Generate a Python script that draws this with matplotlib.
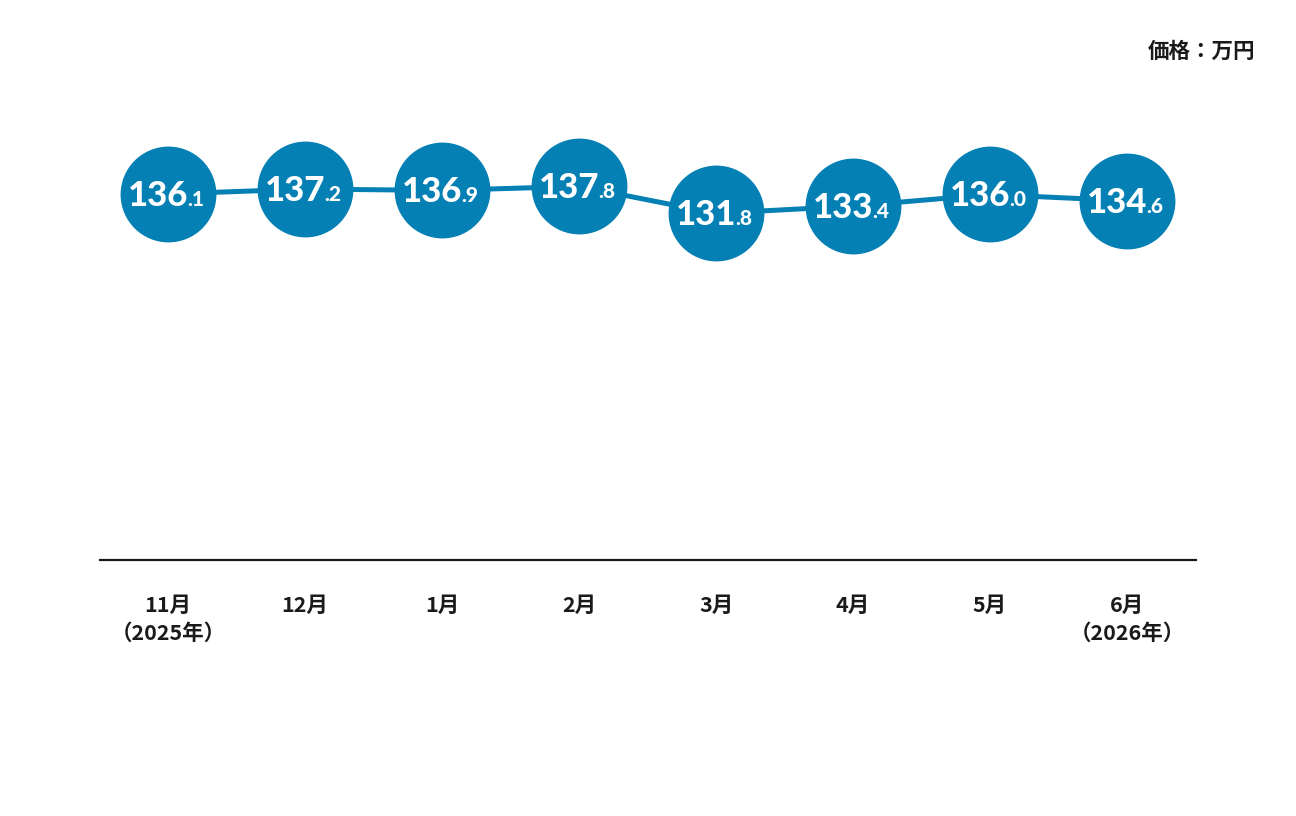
import matplotlib
matplotlib.use("Agg")
import matplotlib.pyplot as plt

months = ["11月\n（2025年）", "12月", "1月", "2月", "3月", "4月", "5月", "6月\n（2026年）"]
prices = [136.1, 137.2, 136.9, 137.8, 131.8, 133.4, 136.0, 134.6]
unit_label = "価格：万円"

BLUE = "#0480b4"
CJK = ["Noto Sans CJK JP", "DejaVu Sans"]

fig = plt.figure(figsize=(12.96, 8.16), dpi=100)
# axes spans x 99.5..1195.5 px, y 100..560 px (from top)
ax = fig.add_axes([99.5 / 1296, (816 - 560) / 816, 1096 / 1296, 460 / 816])
x = list(range(len(prices)))
ax.plot(x, prices, color=BLUE, lw=3.6, zorder=2, solid_capstyle="butt")
ax.plot(x, prices, "o", color=BLUE, markersize=69, markeredgewidth=0, zorder=3)

px = 0.72  # points per pixel
for xi, v in zip(x, prices):
    s = f"{v:.1f}"
    ip, dp = s.split(".")
    ax.annotate(ip, (xi, v), xytext=(20 * px, -12 * px), textcoords="offset points",
                ha="right", va="baseline", color="white", fontsize=25,
                fontweight="black", family="Lato", zorder=4)
    ax.annotate("." + dp, (xi, v), xytext=(19 * px, -12 * px), textcoords="offset points",
                ha="left", va="baseline", color="white", fontsize=15,
                fontweight="black", family="Lato", zorder=4)

ax.set_xlim(-0.5, len(prices) - 0.5)
ax.set_ylim(136.1 - (560 - 194) / 4.5, 136.1 + (194 - 100) / 4.5)
for sp in ["top", "left", "right"]:
    ax.spines[sp].set_visible(False)
ax.spines["bottom"].set_linewidth(1.6)
ax.spines["bottom"].set_color("#1a1a1a")
ax.set_yticks([])
ax.set_xticks(x)
ax.set_xticklabels(months, family=CJK, fontsize=15.5, fontweight="bold",
                   color="#1a1a1a", linespacing=1.4)
ax.tick_params(axis="x", length=0, pad=25)

fig.text(1255 / 1296, 1 - 51 / 816, unit_label, ha="right", va="center",
         family=CJK, fontsize=15.5, fontweight="bold", color="#1a1a1a")

fig.savefig("out.png", dpi=100)
